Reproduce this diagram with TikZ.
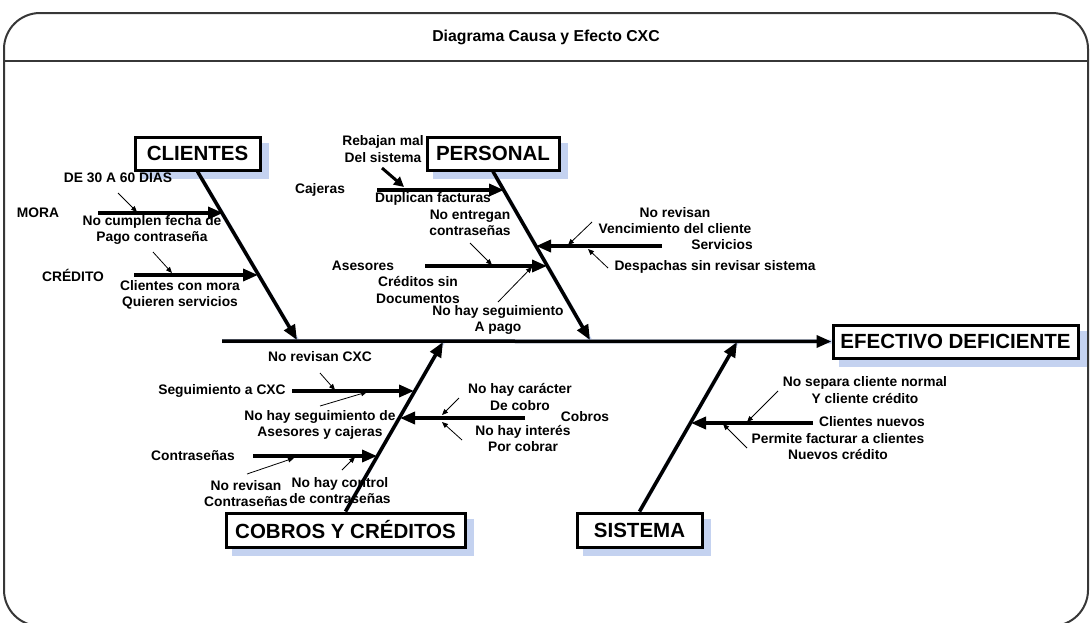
\documentclass[tikz,border=0pt]{standalone}
\usepackage{fontspec}
\setmainfont{Liberation Sans}
\usetikzlibrary{arrows.meta,backgrounds}
\definecolor{shadowc}{RGB}{196,210,240}
\definecolor{framec}{RGB}{55,55,55}
\tikzset{
  catbox/.style={draw, line width=3pt, fill=white, inner sep=0pt,
    font=\bfseries\fontsize{20.5}{22}\selectfont},
  bone/.style={line width=3.5pt, -{Triangle[length=15pt,width=12pt]}},
  lbl/.style={inner sep=0pt, align=center, font=\bfseries\fontsize{13.8}{16.5}\selectfont},
  ptr/.style={line width=0.8pt, -{Triangle[length=6pt,width=5pt]}},
  thickptr/.style={line width=3pt, -{Triangle[length=10pt,width=10pt]}},
  shadeline/.style={line width=4pt, draw=shadowc, shift={(7,7)}},
}
\begin{document}
\begin{tikzpicture}[x=1pt,y=-1pt]
\useasboundingbox (0,0) rectangle (1091,622);
% frame
\draw[line width=2pt, draw=framec, rounded corners=36pt] (4,13) rectangle (1088,626);
\draw[line width=2pt, draw=framec] (4,61) -- (1088,61);
\node[inner sep=0pt, font=\bfseries\fontsize{15.8}{17}\selectfont] (title) at (546,37) {Diagrama Causa y Efecto CXC};

% category boxes
\node[catbox, minimum width=125pt, minimum height=33pt] (cl) at (197.5,153.5) {CLIENTES};
\node[catbox, minimum width=132pt, minimum height=33pt] (pe) at (493,153.5) {PERSONAL};
\node[catbox, minimum width=239pt, minimum height=34pt] (co) at (345.5,530) {COBROS Y CRÉDITOS};
\node[catbox, minimum width=125pt, minimum height=34pt] (si) at (639.5,530) {SISTEMA};
\node[catbox, minimum width=245pt, minimum height=33pt] (ef) at (955.5,341.5) {EFECTIVO DEFICIENTE};

% spine and main bones coordinates
\coordinate (spL) at (222,341);
\coordinate (clS) at (297,340);
\coordinate (peS) at (590,340);
\coordinate (coS) at (443,342);
\coordinate (siS) at (737,342);

% shadows
\begin{scope}[on background layer]
  \fill[shadowc] ([shift={(7,7)}]cl.north west) rectangle ([shift={(7,7)}]cl.south east);
  \fill[shadowc] ([shift={(7,7)}]pe.north west) rectangle ([shift={(7,7)}]pe.south east);
  \fill[shadowc] ([shift={(7,7)}]co.north west) rectangle ([shift={(7,7)}]co.south east);
  \fill[shadowc] ([shift={(7,7)}]si.north west) rectangle ([shift={(7,7)}]si.south east);
  \fill[shadowc] ([shift={(7,7)}]ef.north west) rectangle ([shift={(7,7)}]ef.south east);
  \draw[shadeline] (spL) -- (ef.west);
  \draw[shadeline] (cl.south) -- (clS);
  \draw[shadeline] (pe.south) -- (peS);
  \draw[shadeline] (co.north) -- (coS);
  \draw[shadeline] (si.north) -- (siS);
\end{scope}

\draw[bone] (spL) -- (ef.west);
\draw[bone] (cl.south) -- (clS);
\draw[bone] (pe.south) -- (peS);
\draw[bone] (co.north) -- (coS);
\draw[bone] (si.north) -- (siS);

% sub-bones coordinates
\coordinate (moraA) at (98,213);   \coordinate (moraB) at (223,213);
\coordinate (credA) at (134,275);  \coordinate (credB) at (258,275);
\coordinate (cajA) at (377,190);   \coordinate (cajB) at (504,190);
\coordinate (aseA) at (425,266);   \coordinate (aseB) at (547,266);
\coordinate (serA) at (662,246);   \coordinate (serB) at (536,246);
\coordinate (segA) at (292,391);   \coordinate (segB) at (414,391);
\coordinate (conA) at (253,456);   \coordinate (conB) at (377,456);
\coordinate (cobA) at (525,418);   \coordinate (cobB) at (400,418);
\coordinate (cnA) at (813,423);    \coordinate (cnB) at (691,423);

\draw[bone] (moraA) -- (moraB);
\draw[bone] (credA) -- (credB);
\draw[bone] (cajA) -- (cajB);
\draw[bone] (aseA) -- (aseB);
\draw[bone] (serA) -- (serB);
\draw[bone] (segA) -- (segB);
\draw[bone] (conA) -- (conB);
\draw[bone] (cobA) -- (cobB);
\draw[bone] (cnA) -- (cnB);

% labels
\node[lbl] (l1) at (118,178) {DE 30 A 60 DIAS};
\node[lbl] (l2) at (38,213) {MORA};
\node[lbl] (l3) at (152,230) {No cumplen fecha de\\Pago contraseña};
\node[lbl] (l4) at (73,275) {CRÉDITO};
\node[lbl] (l5) at (180,295) {Clientes con mora\\Quieren servicios};
\node[lbl] (l6) at (383,149) {Rebajan mal\\Del sistema};
\node[lbl] (l7) at (320,190) {Cajeras};
\node[lbl] (l8) at (433,199) {Duplican facturas};
\node[lbl] (l9) at (470,223) {No entregan\\contraseñas};
\node[lbl] (l10) at (363,266) {Asesores};
\node[lbl] (l11) at (418,290) {Créditos sin\\Documentos};
\node[lbl] (l12) at (498,320) {No hay seguimiento\\A pago};
\node[lbl] (l13) at (675,220.5) {No revisan\\Vencimiento del cliente};
\node[lbl] (l14) at (722,245) {Servicios};
\node[lbl] (l15) at (715,267) {Despachas sin revisar sistema};
\node[lbl] (l16) at (320,357) {No revisan CXC};
\node[lbl] (l17) at (222,391) {Seguimiento a CXC};
\node[lbl] (l18) at (320,425) {No hay seguimiento de\\Asesores y cajeras};
\node[lbl] (l19) at (193,456) {Contraseñas};
\node[lbl] (l20) at (246,493.5) {No revisan\\Contraseñas};
\node[lbl] (l21) at (340,490.5) {No hay control\\de contraseñas};
\node[lbl] (l22) at (520,397) {No hay carácter\\De cobro};
\node[lbl] (l23) at (585,417) {Cobros};
\node[lbl] (l24) at (523,438.5) {No hay interés\\Por cobrar};
\node[lbl] (l25) at (865,390) {No separa cliente normal\\Y cliente crédito};
\node[lbl] (l26) at (872,422) {Clientes nuevos};
\node[lbl] (l27) at (838,446.5) {Permite facturar a clientes\\Nuevos crédito};

% pointer arrows
\coordinate (a1s) at (118,193);  \coordinate (a1e) at (137,212);
\coordinate (a2s) at (153,252);  \coordinate (a2e) at (172,273);
\coordinate (a3s) at (382,168);  \coordinate (a3e) at (404,187);
\coordinate (a4s) at (470,243);  \coordinate (a4e) at (492,265);
\coordinate (a5s) at (498,302);  \coordinate (a5e) at (532,267);
\coordinate (a6s) at (592,222);  \coordinate (a6e) at (568,245);
\coordinate (a7s) at (608,268);  \coordinate (a7e) at (588,249);
\coordinate (a8s) at (320,373);  \coordinate (a8e) at (335,390);
\coordinate (a9s) at (320,406);  \coordinate (a9e) at (367,392);
\coordinate (a10s) at (247,474); \coordinate (a10e) at (294,458);
\coordinate (a11s) at (342,470); \coordinate (a11e) at (355,457);
\coordinate (a12s) at (459,398); \coordinate (a12e) at (442,415);
\coordinate (a13s) at (462,440); \coordinate (a13e) at (442,422);
\coordinate (a14s) at (778,391); \coordinate (a14e) at (747,422);
\coordinate (a15s) at (747,448); \coordinate (a15e) at (723,424);

\draw[ptr] (a1s) -- (a1e);
\draw[ptr] (a2s) -- (a2e);
\draw[thickptr] (a3s) -- (a3e);
\draw[ptr] (a4s) -- (a4e);
\draw[ptr] (a5s) -- (a5e);
\draw[ptr] (a6s) -- (a6e);
\draw[ptr] (a7s) -- (a7e);
\draw[ptr] (a8s) -- (a8e);
\draw[ptr] (a9s) -- (a9e);
\draw[ptr] (a10s) -- (a10e);
\draw[ptr] (a11s) -- (a11e);
\draw[ptr] (a12s) -- (a12e);
\draw[ptr] (a13s) -- (a13e);
\draw[ptr] (a14s) -- (a14e);
\draw[ptr] (a15s) -- (a15e);
\end{tikzpicture}
\end{document}
